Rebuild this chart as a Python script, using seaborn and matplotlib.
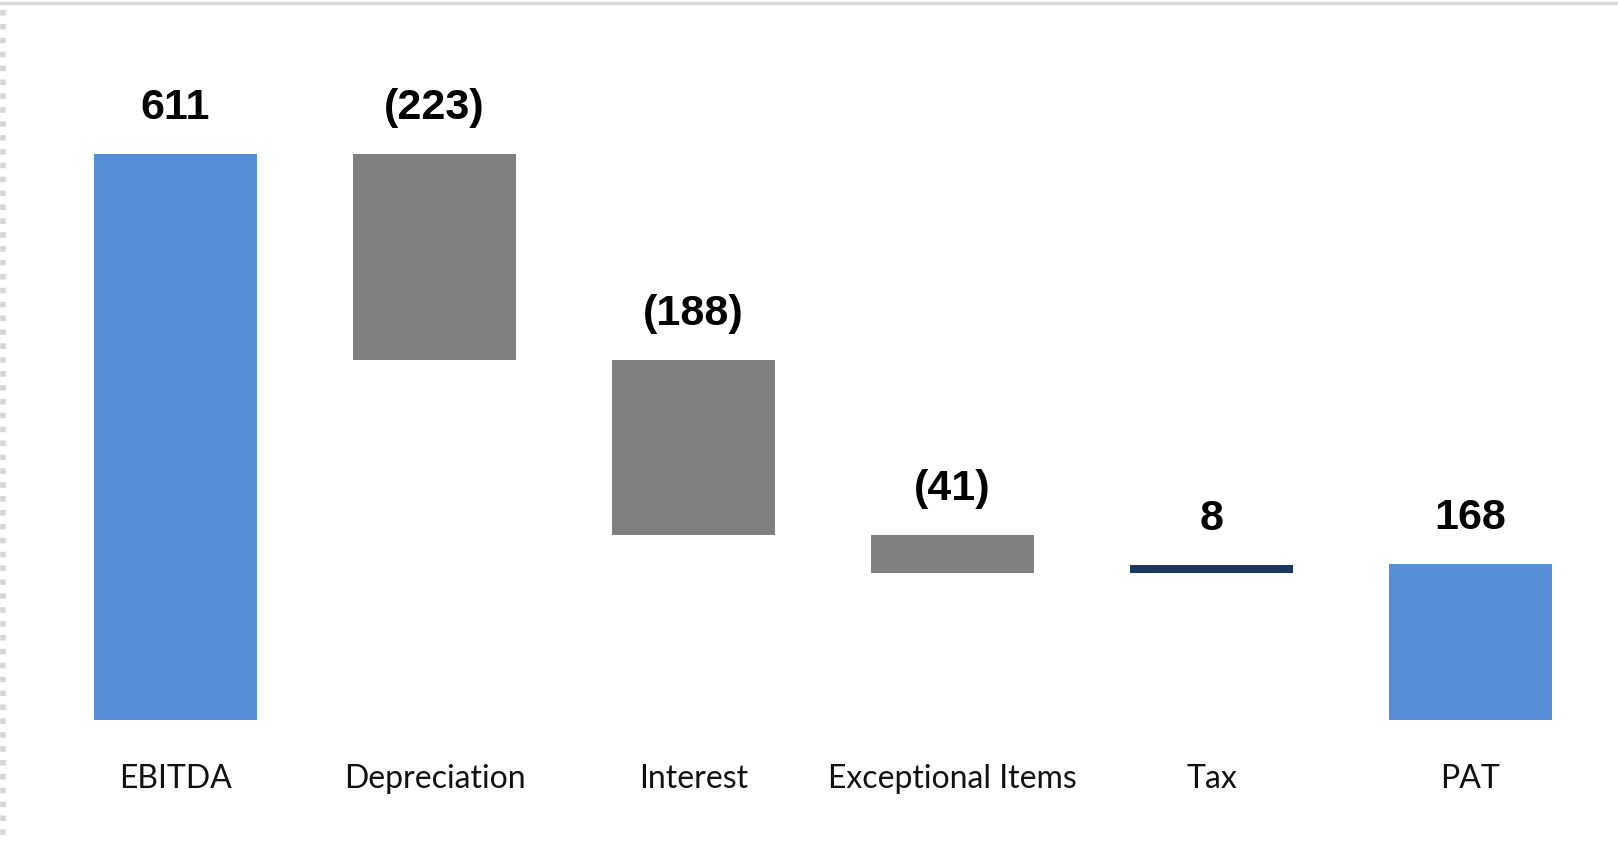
import matplotlib
matplotlib.use("Agg")
import matplotlib.pyplot as plt
import seaborn as sns
import pandas as pd
from matplotlib.lines import Line2D

# Profit bridge from EBITDA to PAT
categories = ["EBITDA", "Depreciation", "Interest", "Exceptional Items", "Tax", "PAT"]
changes = [611, -223, -188, -41, 8, 168]
labels = ["611", "(223)", "(188)", "(41)", "8", "168"]
kinds = ["total", "step", "step", "step", "step", "total"]

colors = {"EBITDA": "#558ed5", "Depreciation": "#808080", "Interest": "#808080",
          "Exceptional Items": "#808080", "Tax": "#1a3860", "PAT": "#558ed5"}

# floating bar extents
bottoms, heights, tops = [], [], []
level = 0
for val, kind in zip(changes, kinds):
    if kind == "total":
        b, h = 0, val
        level = val
    else:
        new = level + val
        b, h = min(level, new), abs(val)
        level = new
    bottoms.append(b)
    heights.append(h)
    tops.append(b + h)

df = pd.DataFrame({"category": categories, "top": tops})

sns.set_theme(style="white")
fig = plt.figure(figsize=(16.18, 8.61), dpi=100)
ax = fig.add_axes([46 / 1618, 141 / 861, 1554 / 1618, 649 / 861])

sns.barplot(data=df, x="category", y="top", hue="category", palette=colors,
            order=categories, hue_order=categories, width=0.63, dodge=False,
            legend=False, saturation=1, ax=ax)

for patch, b, h in zip(ax.patches, bottoms, heights):
    patch.set_y(b)
    patch.set_height(h)
    patch.set_edgecolor("none")

for i, (t, lab) in enumerate(zip(tops, labels)):
    ax.annotate(lab, xy=(i, t), xytext=(0, 33), textcoords="offset points",
                ha="center", va="center", fontsize=31, fontweight="bold",
                family="Liberation Sans", color="black")

ax.set_xlim(-0.5, 5.5)
ax.set_ylim(0, 700)
ax.set_xlabel("")
ax.set_ylabel("")
ax.set_yticks([])
ax.tick_params(axis="x", length=0, pad=32, labelsize=23, labelcolor="#111111")
for lab in ax.get_xticklabels():
    lab.set_family("Lato")
for s in ax.spines.values():
    s.set_visible(False)

# light frame edges
fig.add_artist(Line2D([0, 1], [1 - 3 / 861, 1 - 3 / 861], color="#dddddd", lw=2.5))
fig.add_artist(Line2D([3 / 1618, 3 / 1618], [0.03, 0.99], color="#d6d6d6", lw=4,
                      linestyle=(0, (1, 1.5))))

fig.savefig("out.png", dpi=100, facecolor="white")
